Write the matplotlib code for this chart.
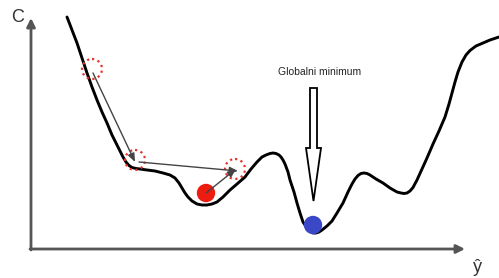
import matplotlib
matplotlib.use("Agg")
import matplotlib.pyplot as plt
from matplotlib.patches import Circle, Polygon

# cost curve, traced in picture pixels (x right, y down)
curve_x = [67, 72, 77, 82, 87, 92, 97, 102, 107, 112, 118, 123, 126, 129, 132, 136, 140, 147, 155, 163,
           170, 175, 179, 182, 185, 188, 192, 197, 202, 207, 212, 217, 223, 230, 237, 245, 251, 257, 262, 266,
           270, 273, 276, 279, 281, 283, 285, 288, 290, 294, 297, 300, 303, 307, 310, 313, 316, 319, 322, 327,
           332, 337, 343, 348, 352, 355, 358, 361, 364, 367, 370, 376, 383, 390, 397, 401, 404, 407, 410, 413,
           417, 422, 427, 433, 439, 445, 449, 452, 455, 458, 462, 466, 470, 476, 483, 490, 499]
curve_y = [17, 30, 43, 58, 73, 87, 100, 112, 123, 135, 147, 157, 162, 165.5, 167.5, 168.5, 169, 170, 171, 173,
           175, 178, 183, 188, 193, 197, 201, 204, 205, 205, 204, 202, 197, 190, 184, 177, 169, 162, 157, 155,
           153.5, 153, 153.5, 155, 157, 160, 164, 172, 180, 192, 203, 213, 222, 228, 231.5, 233, 233, 232, 230, 226,
           221, 213, 203, 192, 184, 179, 175.5, 173.5, 173, 173.5, 175, 179, 183, 188, 192, 193, 193.5, 193, 191, 187.5,
           180, 169, 158, 144, 131, 117, 104, 93, 82, 72, 62, 55, 50.5, 46, 43, 40, 37]

# gradient descent steps (dotted circles) and their arrows
step_x = [92, 135, 235]
step_y = [69, 160, 169]
arrow_from = [(93, 73), (139, 162), (206, 193)]
arrow_to = [(135, 162), (238, 171), (236, 169)]

local_ball = (206, 193)
global_ball = (313, 225)

fig = plt.figure(figsize=(4.99, 2.78), dpi=100)
ax = fig.add_axes([0, 0, 1, 1])
ax.set_xlim(0, 499)
ax.set_ylim(278, 0)
ax.axis("off")

axis_col = "#555555"
# axes with arrow heads
ax.annotate("", xy=(31, 18), xytext=(31, 250),
            arrowprops=dict(arrowstyle="-|>,head_length=0.5,head_width=0.25", color=axis_col, lw=2,
                            shrinkA=0, shrinkB=0))
ax.annotate("", xy=(465, 249), xytext=(30, 249),
            arrowprops=dict(arrowstyle="-|>,head_length=0.5,head_width=0.25", color=axis_col, lw=2,
                            shrinkA=0, shrinkB=0))
ax.text(18, 17, "C", fontsize=13, color="#333333", ha="center", va="center", family="Liberation Sans")
ax.text(477, 267, "ŷ", fontsize=13, color="#333333", ha="center", va="center", family="Liberation Sans")

ax.plot(curve_x, curve_y, color="black", lw=2.1, solid_capstyle="round", solid_joinstyle="round", zorder=3)

for cx, cy in zip(step_x, step_y):
    ax.add_patch(Circle((cx, cy), 10, fill=False, ec="#e8342c", lw=1.6, ls=(0, (1, 1.6)), zorder=4))

for (x0, y0), (x1, y1) in zip(arrow_from, arrow_to):
    ax.annotate("", xy=(x1, y1), xytext=(x0, y0),
                arrowprops=dict(arrowstyle="-|>,head_length=0.5,head_width=0.2", color="#444444", lw=1,
                                shrinkA=0, shrinkB=0), zorder=5)

ax.add_patch(Circle(local_ball, 8.5, color="#ee1c10", zorder=4))
ax.add_patch(Circle(global_ball, 8.5, color="#3a48c8", zorder=4))

# hollow arrow pointing at the global minimum
hollow = [(310, 88), (317, 88), (317, 148), (321, 148), (313.5, 201), (306, 148), (310, 148)]
ax.add_patch(Polygon(hollow, closed=True, fill=True, fc="white", ec="black", lw=1.3, zorder=4))
ax.text(320, 72, "Globalni minimum", fontsize=7.5, color="#222222", ha="center", va="center",
        family=["Liberation Sans Narrow", "Liberation Sans"])

fig.savefig("out.png", dpi=100)
